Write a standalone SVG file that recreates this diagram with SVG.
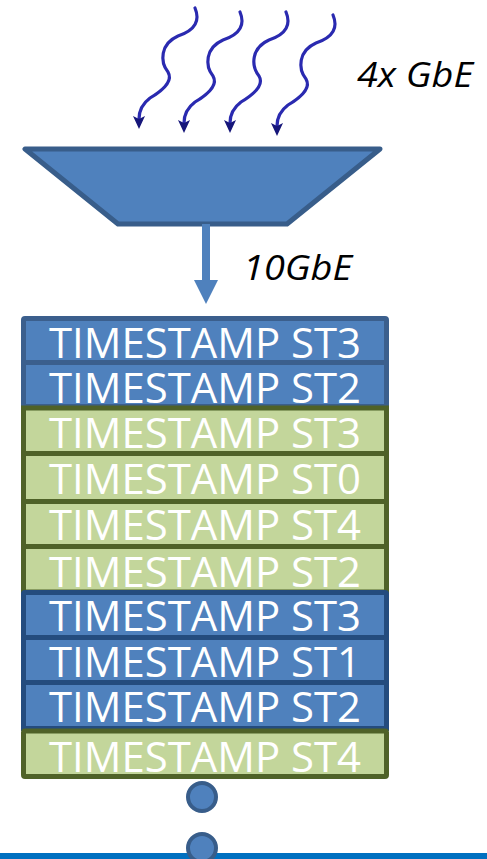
<svg xmlns="http://www.w3.org/2000/svg" width="487" height="859" viewBox="0 0 487 859">
  <defs>
    <style>
      .wave { fill: none; stroke: #2a2ab0; stroke-width: 3.2; stroke-linecap: round; }
      .row-blue-a { fill: #4f81bd; stroke: #3b5f8d; stroke-width: 5; }
      .row-blue-c { fill: #4f81bd; stroke: #244c7e; stroke-width: 5; }
      .row-green { fill: #c3d69b; stroke: #4f6228; stroke-width: 5; }
      .rowtxt { font-family: "Open Sans", "Liberation Sans", sans-serif; font-size: 42px; fill: #ffffff; text-anchor: middle; }
      .lbl { font-family: "Open Sans", "Liberation Sans", sans-serif; font-style: italic; font-size: 35px; fill: #000000; }
      .dot { fill: #4f81bd; stroke: #385d8a; stroke-width: 4; }
    </style>
    <marker id="wavehead" markerWidth="13" markerHeight="12" refX="3" refY="6" orient="auto" markerUnits="userSpaceOnUse">
      <path d="M0,0 L13,6 L0,12 L3,6 Z" fill="#16167a"/>
    </marker>
    <path id="squiggle" class="wave" d="M195,8 C200,20 196,30 178,36 C160,44 160,62 168,72 C174,82 160,92 150,98 C142,104 139,110 139,119" marker-end="url(#wavehead)"/>
  </defs>

  <g id="gbe-inputs">
    <use href="#squiggle"/>
    <use href="#squiggle" transform="translate(45,4)"/>
    <use href="#squiggle" transform="translate(91,4)"/>
    <use href="#squiggle" transform="translate(138,7)"/>
    <text class="lbl" x="357" y="87" textLength="116" lengthAdjust="spacingAndGlyphs">4x GbE</text>
  </g>

  <g id="aggregator">
    <polygon points="25,149 380,149 287,224 118,224" fill="#4f81bd" stroke="#385d8a" stroke-width="5" stroke-linejoin="round"/>
  </g>

  <g id="connectors">
    <rect x="202" y="224" width="8" height="57" fill="#4f81bd"/>
    <polygon points="194,280 218,280 206,304" fill="#4f81bd"/>
    <text class="lbl" x="243" y="280" textLength="109" lengthAdjust="spacingAndGlyphs">10GbE</text>
  </g>

  <g id="stack">
    <g id="row1"><rect class="row-blue-a" x="23.5" y="318.5" width="363" height="44" rx="1.5"/><text class="rowtxt" x="205" y="358" textLength="312" lengthAdjust="spacingAndGlyphs">TIMESTAMP ST3</text></g>
    <g id="row2"><rect class="row-blue-a" x="23.5" y="362.5" width="363" height="44"/><text class="rowtxt" x="205" y="403" textLength="312" lengthAdjust="spacingAndGlyphs">TIMESTAMP ST2</text></g>
    <g id="row3"><rect class="row-green" x="23.5" y="408" width="363" height="45.5"/><text class="rowtxt" x="205" y="448" textLength="312" lengthAdjust="spacingAndGlyphs">TIMESTAMP ST3</text></g>
    <g id="row4"><rect class="row-green" x="23.5" y="453.5" width="363" height="48"/><text class="rowtxt" x="205" y="494" textLength="312" lengthAdjust="spacingAndGlyphs">TIMESTAMP ST0</text></g>
    <g id="row5"><rect class="row-green" x="23.5" y="501.5" width="363" height="45"/><text class="rowtxt" x="205" y="540" textLength="312" lengthAdjust="spacingAndGlyphs">TIMESTAMP ST4</text></g>
    <g id="row6"><rect class="row-green" x="23.5" y="546.5" width="363" height="45.5"/><text class="rowtxt" x="205" y="587" textLength="312" lengthAdjust="spacingAndGlyphs">TIMESTAMP ST2</text></g>
    <g id="row7"><rect class="row-blue-c" x="23.5" y="592.5" width="363" height="45" rx="1.5"/><text class="rowtxt" x="205" y="631" textLength="312" lengthAdjust="spacingAndGlyphs">TIMESTAMP ST3</text></g>
    <g id="row8"><rect class="row-blue-c" x="23.5" y="637.5" width="363" height="45"/><text class="rowtxt" x="205" y="677" textLength="312" lengthAdjust="spacingAndGlyphs">TIMESTAMP ST1</text></g>
    <g id="row9"><rect class="row-blue-c" x="23.5" y="682.5" width="363" height="46"/><text class="rowtxt" x="205" y="722" textLength="312" lengthAdjust="spacingAndGlyphs">TIMESTAMP ST2</text></g>
    <g id="row10"><rect class="row-green" x="23.5" y="731" width="363" height="45.5" rx="1.5"/><text class="rowtxt" x="205" y="772" textLength="312" lengthAdjust="spacingAndGlyphs">TIMESTAMP ST4</text></g>
  </g>

  <g id="baseline">
    <rect x="0" y="853" width="487" height="6" fill="#0070c0"/>
  </g>

  <g id="dot1"><circle class="dot" cx="202" cy="797" r="14"/></g>
  <g id="dot2"><circle class="dot" cx="202" cy="848" r="14"/></g>
</svg>
